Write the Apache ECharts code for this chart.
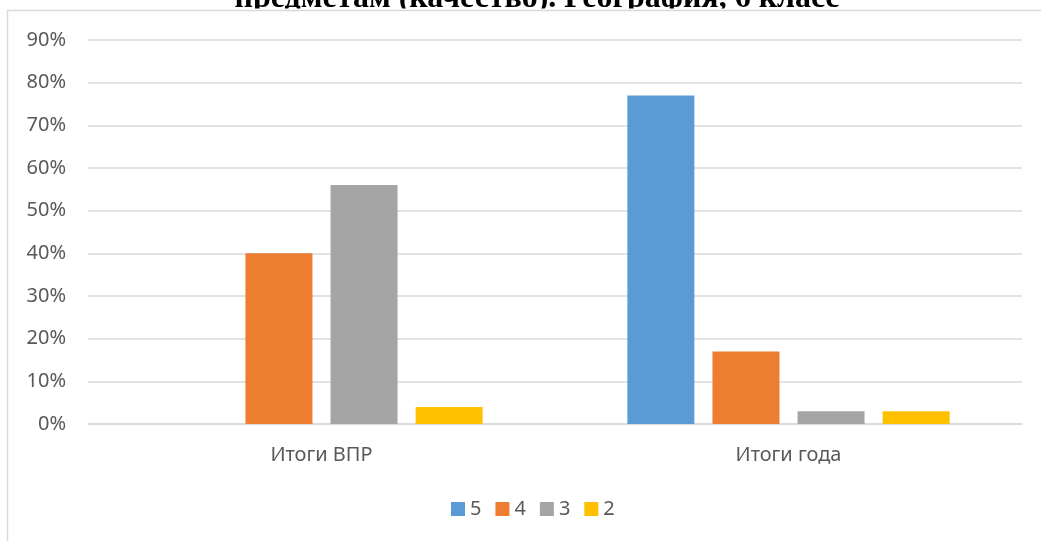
<!DOCTYPE html>
<html>
<head>
<meta charset="utf-8">
<script src="https://cdn.jsdelivr.net/npm/echarts@6/dist/echarts.min.js"></script>
<style>html,body{margin:0;padding:0;background:#fff;}#main{width:1041px;height:541px;}</style>
</head>
<body>
<div id="main"></div>
<script>
const titleText = 'предметам (качество). География, 6 класс';
const categories = ['Итоги ВПР', 'Итоги года'];
const seriesNames = ['5', '4', '3', '2'];
const values5 = [0, 0.77];
const values4 = [0.40, 0.17];
const values3 = [0.56, 0.03];
const values2 = [0.04, 0.03];
const colors = ['#5b9bd5', '#ed7d31', '#a5a5a5', '#ffc000'];
const yTicks = [0, 0.1, 0.2, 0.3, 0.4, 0.5, 0.6, 0.7, 0.8, 0.9];

const allValues = [values5, values4, values3, values2];
const font = 'Noto Sans';
const chart = echarts.init(document.getElementById('main'), null, {renderer: 'canvas'});
chart.setOption({
  animation: false,
  backgroundColor: '#fff',
  graphic: [
    {type: 'text', z: 90, x: 537, y: -17, style: {text: titleText, font: 'bold 32px "Liberation Serif"', fill: '#000', textAlign: 'center'}, silent: true},
    {type: 'rect', z: 95, shape: {x: 0, y: 8.5, width: 1041, height: 12}, style: {fill: '#fff'}, silent: true},
    {type: 'rect', z: 100, shape: {x: 7.5, y: 10.5, width: 1200, height: 700}, style: {fill: 'none', stroke: '#d9d9d9', lineWidth: 1.5}, silent: true}
  ],
  grid: {left: 88, right: 19, top: 40, bottom: 117},
  legend: {
    data: seriesNames, left: 446, top: 494, itemWidth: 14, itemHeight: 14, itemGap: 14,
    icon: 'rect',
    textStyle: {fontFamily: font, fontSize: 20, color: '#595959'}
  },
  xAxis: {
    type: 'category', data: categories,
    axisLine: {lineStyle: {color: '#d9d9d9', width: 1.5}},
    axisTick: {show: false},
    axisLabel: {fontFamily: font, fontSize: 20, color: '#595959', margin: 21}
  },
  yAxis: {
    type: 'value', min: 0, max: yTicks[yTicks.length - 1], interval: 0.1,
    axisLine: {show: false}, axisTick: {show: false},
    splitLine: {lineStyle: {color: '#d9d9d9', width: 1.5}},
    axisLabel: {fontFamily: font, fontSize: 20, color: '#595959', margin: 22,
      formatter: v => Math.round(v * 100) + '%'}
  },
  series: seriesNames.map((n, i) => ({
    name: n, type: 'bar', data: allValues[i], barWidth: 67, barGap: '27%',
    itemStyle: {color: colors[i]}
  }))
});
</script>
</body>
</html>
